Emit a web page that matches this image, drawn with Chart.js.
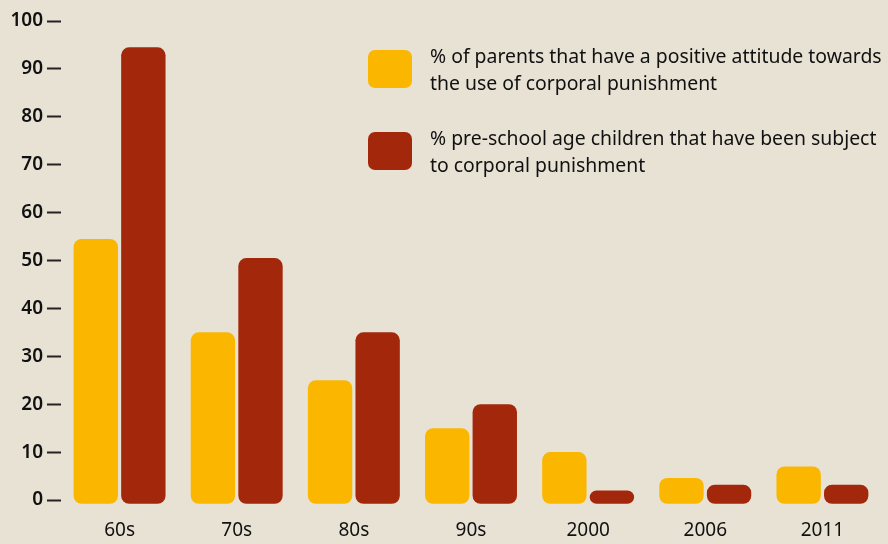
<!DOCTYPE html>
<html lang="en">
<head>
  <meta charset="UTF-8">
  <title>Corporal punishment</title>
  <script src="https://cdn.jsdelivr.net/npm/chart.js"></script>
</head>

<style>
  html, body {
    margin: 0;
    padding: 0;
    background: #e8e2d5;
    font-family: "Noto Sans", sans-serif;
  }
  #wrap {
    position: relative;
    width: 888px;
    height: 544px;
  }
  .legendItem {
    position: absolute;
    left: 368px;
    width: 520px;
    color: #111;
    font-size: 19.4px;
    line-height: 27px;
  }
  .swatch {
    position: absolute;
    left: 0;
    top: 8px;
    width: 44px;
    height: 38px;
    border-radius: 7px;
  }
  .legendText {
    position: absolute;
    left: 62px;
    top: 0;
    white-space: nowrap;
  }
</style>

<body>
  <div id="wrap">
    <canvas id="myChart" width="888" height="544"></canvas>
    <div class="legendItem" style="top:42px">
      <div class="swatch" style="background:#fbb600"></div>
      <div class="legendText">% of parents that have a positive attitude towards<br>the use of corporal punishment</div>
    </div>
    <div class="legendItem" style="top:124px">
      <div class="swatch" style="background:#a3270b"></div>
      <div class="legendText">% pre-school age children that have been subject<br>to corporal punishment</div>
    </div>
  </div>
</body>

<script>
  // values
  periods = ['60s', '70s', '80s', '90s', '2000', '2006', '2011']
  parents_positive = [54.5, 35, 25, 15, 10, 4.6, 7]
  children_punished = [94.5, 50.5, 35, 20, 2, 3.2, 3.2]
  y_ticks = [0, 10, 20, 30, 40, 50, 60, 70, 80, 90, 100]

  new Chart(document.getElementById('myChart'), {
    type: 'bar',
    data: {
      labels: periods,
      datasets: [{
        label: '% of parents that have a positive attitude towards the use of corporal punishment',
        data: parents_positive,
        backgroundColor: '#fbb600',
        borderRadius: 8,
        borderSkipped: false,
        base: -0.8,
        clip: false
      }, {
        label: '% pre-school age children that have been subject to corporal punishment',
        data: children_punished,
        backgroundColor: '#a3270b',
        borderRadius: 8,
        borderSkipped: false,
        base: -0.8,
        clip: false
      }]
    },
    options: {
      responsive: false,
      animation: false,
      categoryPercentage: 0.812,
      barPercentage: 0.933,
      layout: {
        padding: { top: 21, right: 7, left: 0, bottom: 0 }
      },
      plugins: {
        legend: { display: false },
        tooltip: { enabled: false }
      },
      scales: {
        x: {
          grid: { display: false, drawTicks: false },
          border: { display: false },
          ticks: {
            color: '#111',
            padding: 19,
            font: { family: 'Noto Sans', size: 19 }
          },
          afterFit: function (scale) { scale.height = 44 }
        },
        y: {
          min: 0,
          max: 100,
          afterBuildTicks: function (scale) {
            scale.ticks = y_ticks.map(v => ({ value: v }))
          },
          grid: {
            drawOnChartArea: false,
            drawTicks: true,
            tickLength: 14,
            tickWidth: 2,
            tickColor: '#222'
          },
          border: { display: false },
          ticks: {
            color: '#111',
            padding: 4,
            font: { family: 'Noto Sans', size: 19, weight: '600' }
          },
          afterFit: function (scale) { scale.width = 61 }
        }
      }
    }
  });
</script>

</html>
